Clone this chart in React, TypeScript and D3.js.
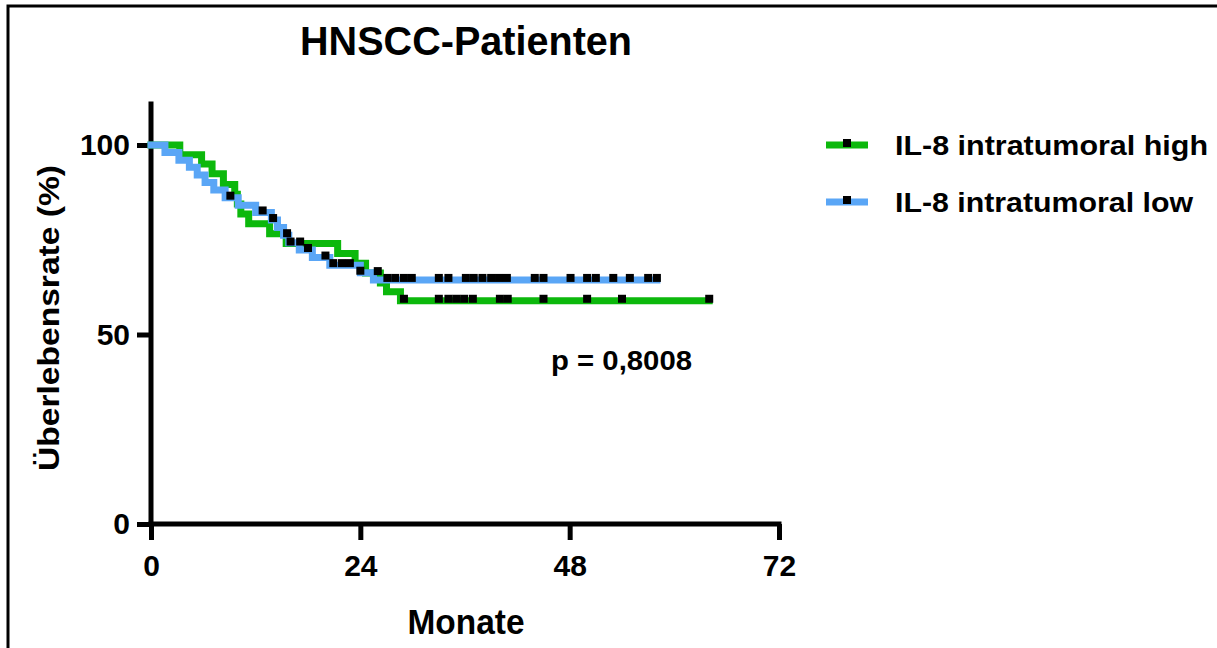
import React, { useRef, useEffect } from 'react';
import * as d3 from 'd3';

// Kaplan-Meier steps (months, % survival)
const highTimes = [0, 3.3, 5.8, 7.0, 8.3, 9.6, 9.9, 10.3, 11.2, 13.6, 15.5, 21.4, 23.4, 24.6, 26.3, 27.0, 28.6];
const highSurv = [100, 97.4, 95.0, 92.4, 89.6, 87.0, 84.4, 81.8, 79.2, 76.6, 74.0, 71.4, 68.8, 66.2, 63.6, 61.3, 58.9];
const highCensor = [16.0, 17.1, 26.0, 29.0, 33.0, 34.1, 35.0, 35.9, 36.9, 40.0, 40.9, 45.0, 50.0, 54.0, 64.0];
const highEnd = 64;

const lowTimes = [0, 1.6, 3.2, 4.4, 5.3, 6.2, 7.2, 8.5, 10.0, 12.0, 13.8, 14.5, 15.2, 15.8, 17.0, 18.5, 20.5, 24.0, 25.5];
const lowSurv = [100, 98.0, 96.0, 94.1, 92.1, 90.1, 88.1, 86.1, 84.1, 82.2, 80.2, 78.2, 76.2, 74.2, 72.3, 70.3, 68.3, 66.3, 64.4];
const lowCensor = [9.1, 12.8, 14.0, 15.6, 18.0, 20.0, 20.9, 21.9, 22.8, 24.0, 27.1, 28.0, 29.0, 29.9, 33.0, 34.1, 36.1, 37.0, 38.0, 39.0, 39.9, 40.8, 44.0, 45.0, 48.1, 50.0, 51.0, 53.0, 54.9, 57.0, 58.0];
const lowEnd = 58;

const xTicks = [0, 24, 48, 72];
const yTicks = [0, 50, 100];

const seriesNames = ['IL-8 intratumoral high', 'IL-8 intratumoral low'];
const seriesColors = ['#0cb80c', '#5aa6f6'];

const FONT = "'Liberation Sans', Arial, sans-serif";

const App = () => {
  const svgRef = useRef<SVGSVGElement>(null);

  useEffect(() => {
    const svg = d3.select(svgRef.current);
    svg.selectAll('*').remove();

    const width = 1217;
    const height = 648;
    svg.attr('width', width).attr('height', height);

    svg.append('rect').attr('width', width).attr('height', height).attr('fill', '#fff');

    // frame
    svg.append('path')
      .attr('d', `M8,${height} L8,6 L${width},6`)
      .attr('fill', 'none')
      .attr('stroke', '#000')
      .attr('stroke-width', 3);

    const x = d3.scaleLinear().domain([0, 72]).range([151, 779]);
    const y = d3.scaleLinear().domain([0, 100]).range([524, 145]);

    // title
    svg.append('text')
      .attr('x', 466)
      .attr('y', 55)
      .attr('text-anchor', 'middle')
      .attr('font-family', FONT)
      .attr('font-weight', 'bold')
      .attr('font-size', 41)
      .attr('textLength', 332)
      .attr('lengthAdjust', 'spacingAndGlyphs')
      .text('HNSCC-Patienten');

    // axes
    const yAxis = d3.axisLeft(y).tickValues(yTicks).tickSize(14).tickPadding(7);
    const gy = svg.append('g').attr('transform', `translate(${x(0)},0)`).call(yAxis);
    const xAxis = d3.axisBottom(x).tickValues(xTicks).tickSize(16).tickPadding(22);
    const gx = svg.append('g').attr('transform', `translate(0,${y(0)})`).call(xAxis);

    [gy, gx].forEach(g => {
      g.select('.domain').remove();
      g.selectAll('line').attr('stroke', '#000').attr('stroke-width', 5);
      g.selectAll('text')
        .attr('font-family', FONT)
        .attr('font-weight', 'bold')
        .attr('font-size', 30)
        .attr('fill', '#000');
    });
    gx.selectAll('text').attr('dy', '0.45em');

    // axis lines
    svg.append('line')
      .attr('x1', x(0)).attr('x2', x(0))
      .attr('y1', y(111.5)).attr('y2', y(0))
      .attr('stroke', '#000').attr('stroke-width', 5);
    svg.append('line')
      .attr('x1', x(0) - 2.5).attr('x2', x(72) + 2.5)
      .attr('y1', y(0)).attr('y2', y(0))
      .attr('stroke', '#000').attr('stroke-width', 5);

    // axis titles
    svg.append('text')
      .attr('x', 466)
      .attr('y', 634)
      .attr('text-anchor', 'middle')
      .attr('font-family', FONT)
      .attr('font-weight', 'bold')
      .attr('font-size', 35)
      .attr('textLength', 117)
      .attr('lengthAdjust', 'spacingAndGlyphs')
      .text('Monate');

    svg.append('text')
      .attr('transform', 'translate(59,318) rotate(-90)')
      .attr('text-anchor', 'middle')
      .attr('font-family', FONT)
      .attr('font-weight', 'bold')
      .attr('font-size', 30)
      .attr('textLength', 306)
      .attr('lengthAdjust', 'spacingAndGlyphs')
      .text('Überlebensrate (%)');

    // curves
    const line = d3.line<[number, number]>()
      .x(d => x(d[0]))
      .y(d => y(d[1]))
      .curve(d3.curveStepAfter);

    const series = [
      { times: highTimes, surv: highSurv, censor: highCensor, end: highEnd, color: seriesColors[0] },
      { times: lowTimes, surv: lowSurv, censor: lowCensor, end: lowEnd, color: seriesColors[1] },
    ];

    const survAt = (s, t) => {
      let v = s.surv[0];
      s.times.forEach((tt, i) => { if (tt <= t) v = s.surv[i]; });
      return v;
    };

    series.forEach(s => {
      const pts: [number, number][] = s.times.map((t, i) => [t, s.surv[i]]);
      pts.push([s.end, s.surv[s.surv.length - 1]]);
      svg.append('path')
        .attr('d', line(pts))
        .attr('fill', 'none')
        .attr('stroke', s.color)
        .attr('stroke-width', 7)
        .attr('stroke-linejoin', 'miter')
        .attr('stroke-linecap', 'square');
    });

    series.forEach(s => {
      svg.append('g')
        .selectAll('rect')
        .data(s.censor)
        .join('rect')
        .attr('x', d => x(d) - 4)
        .attr('y', d => y(survAt(s, d)) - 6)
        .attr('width', 8)
        .attr('height', 8)
        .attr('fill', '#000');
    });

    // p value
    svg.append('text')
      .attr('x', 551)
      .attr('y', 370)
      .attr('font-family', FONT)
      .attr('font-weight', 'bold')
      .attr('font-size', 28)
      .attr('textLength', 141)
      .attr('lengthAdjust', 'spacingAndGlyphs')
      .text('p = 0,8008');

    // legend
    const legendLen = [313, 298];
    seriesNames.forEach((name, i) => {
      const ly = 145 + i * 57;
      const lg = svg.append('g');
      lg.append('line')
        .attr('x1', 826).attr('x2', 868)
        .attr('y1', ly).attr('y2', ly)
        .attr('stroke', seriesColors[i])
        .attr('stroke-width', 7);
      lg.append('rect')
        .attr('x', 843).attr('y', ly - 6)
        .attr('width', 8).attr('height', 8)
        .attr('fill', '#000');
      lg.append('text')
        .attr('x', 895)
        .attr('y', ly + 10)
        .attr('font-family', FONT)
        .attr('font-weight', 'bold')
        .attr('font-size', 28)
        .attr('textLength', legendLen[i])
        .attr('lengthAdjust', 'spacingAndGlyphs')
        .text(name);
    });
  }, []);

  return (
    <div style={{ position: 'absolute', left: 0, top: 0 }}>
      <svg ref={svgRef} style={{ display: 'block' }}></svg>
    </div>
  );
};

export default App;
